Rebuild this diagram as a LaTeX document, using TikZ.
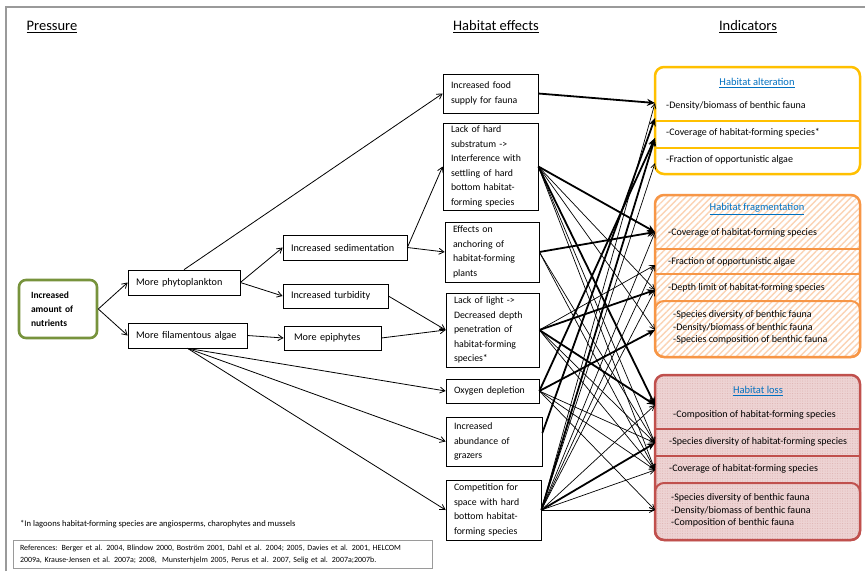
\documentclass[tikz,border=0pt]{standalone}
\usepackage{fontspec}
\setmainfont{Carlito}
\usetikzlibrary{arrows.meta,patterns,patterns.meta}
\definecolor{nutc}{HTML}{77933C}
\definecolor{altc}{HTML}{FFC000}
\definecolor{fragc}{HTML}{F79646}
\definecolor{fragp}{HTML}{FBD3B4}
\definecolor{lossc}{HTML}{C0504D}
\definecolor{lossf}{HTML}{EDD3D3}
\definecolor{lossp}{HTML}{DDB0B0}
\definecolor{ttlc}{HTML}{0070C0}
\definecolor{framec}{HTML}{9A9A9A}
\begin{document}
\begin{tikzpicture}[x=1pt,y=-1pt,
  bx/.style={draw, line width=0.7pt, inner xsep=8pt, inner ysep=1pt, align=left},
  lf/.style={bx, font=\fontsize{10.2}{12}\selectfont, minimum height=25pt},
  ef/.style={bx, font=\fontsize{9.8}{14.5}\selectfont},
  hd/.style={font=\fontsize{14.5}{16}\selectfont, inner sep=0pt},
  it/.style={font=\fontsize{10}{12.5}\selectfont, inner sep=0pt, align=left, anchor=west},
  ttl/.style={font=\fontsize{10.5}{12}\selectfont, text=ttlc, inner sep=0pt},
  la/.style={-{Straight Barb[length=5pt,width=6pt]}, line width=0.8pt},
  th/.style={-{Stealth[length=8pt,width=7pt]}, line width=1.8pt},
  tn/.style={-{Straight Barb[length=5pt,width=5pt]}, line width=0.7pt}]
\useasboundingbox (0,0) rectangle (865,571);
\fill[white] (0,0) rectangle (865,571);
% frame
\draw[framec, line width=1.3pt] (6,571) -- (6,7) -- (865,7);
% headings
\node[hd] (hp) at (52,27) {\underline{Pressure}};
\node[hd] (he) at (496,27) {\underline{Habitat effects}};
\node[hd] (hi) at (748,27) {\underline{Indicators}};
% pressure side
\node[draw=nutc, line width=2.6pt, rounded corners=7pt, minimum width=78pt, minimum height=58pt,
      text width=54pt, inner xsep=12pt, align=left, font=\fontsize{9.5}{14}\selectfont\bfseries] (nut) at (58,309) {Increased\\amount of\\nutrients};
\node[lf, text width=96pt] (phy) at (184,282.5) {More phytoplankton};
\node[lf, text width=103pt] (fil) at (187.5,335.5) {More filamentous algae};
\node[lf, text width=108pt, inner xsep=8pt] (sed) at (345,247.5) {Increased sedimentation};
\node[lf, text width=89pt, minimum height=24pt] (tur) at (335.5,296) {Increased turbidity};
\node[lf, text width=77pt, inner xsep=10pt, minimum height=24pt] (epi) at (332.5,338) {More epiphytes};
% habitat effects
\node[ef, text width=79pt, minimum height=39pt] (food) at (490.5,93.5) {Increased food\\supply for fauna};
\node[ef, text width=79pt, minimum height=87pt] (sub) at (490.5,166.5) {Lack of hard\\substratum ->\\Interference with\\settling of hard\\bottom habitat-\\forming species};
\node[ef, text width=78pt, minimum height=60pt] (anch) at (492,252) {Effects on\\anchoring of\\habitat-forming\\plants};
\node[ef, text width=77pt, minimum height=74pt] (light) at (492.5,330) {Lack of light ->\\Decreased depth\\penetration of\\habitat-forming\\species*};
\node[ef, text width=77pt, minimum height=24pt] (oxy) at (492.5,391) {Oxygen depletion};
\node[ef, text width=80pt, minimum height=49pt] (graz) at (494,441.5) {Increased\\abundance of\\grazers};
\node[ef, text width=79pt, minimum height=60pt] (comp) at (493.5,510) {Competition for\\space with hard\\bottom habitat-\\forming species};
% footnote and references
\node[font=\fontsize{8.6}{10}\selectfont, inner sep=0pt, anchor=west] (foot) at (20,524) {*In lagoons habitat-forming species are angiosperms, charophytes and mussels};
\node[draw=framec, line width=0.6pt, font=\fontsize{7.95}{12.5}\selectfont, text width=405pt, inner xsep=7pt, inner ysep=2pt, minimum height=28pt, align=left] (refs) at (222.5,554.5)
 {References: Berger et al. 2004, Blindow 2000, Bostr\"om 2001, Dahl et al. 2004; 2005, Davies et al. 2001, HELCOM\\2009a, Krause-Jensen et al. 2007a; 2008,\ \ Munsterhjelm 2005, Perus et al. 2007, Selig et al. 2007a;2007b.};
% indicator boxes
% alteration
\draw[altc, line width=2.5pt, rounded corners=9pt] (655,67) rectangle (860,174);
\draw[altc, line width=1.5pt] (655,121) -- (860,121) (655,148) -- (860,148);
% fragmentation
\path[pattern={Lines[angle=45,distance=4.5pt,line width=1.4pt]}, pattern color=fragp, rounded corners=9pt] (655,195) rectangle (860,357);
\draw[fragc, line width=2.5pt, rounded corners=9pt] (655,195) rectangle (860,357);
\draw[fragc, line width=1.5pt] (655,249) -- (860,249) (655,274) -- (860,274);
\draw[fragc, line width=2pt, rounded corners=9pt] (655,301) rectangle (860,357);
% loss
\fill[lossf, rounded corners=9pt] (655,375) rectangle (860,540);
\path[pattern={Dots[distance=2.5pt,radius=0.5pt]}, pattern color=lossp, rounded corners=9pt] (655,375) rectangle (860,540);
\draw[lossc, line width=2.5pt, rounded corners=9pt] (655,375) rectangle (860,540);
\draw[lossc, line width=1.5pt] (655,429) -- (860,429) (655,456) -- (860,456);
\draw[lossc, line width=2pt, rounded corners=9pt] (655,483) rectangle (860,540);
% indicator texts
\node[ttl] (ta) at (757,83) {\underline{Habitat alteration}};
\node[it] (a1) at (666,106) {-Density/biomass of benthic fauna};
\node[it] (a2) at (666,133) {-Coverage of habitat-forming species*};
\node[it] (a3) at (666,160) {-Fraction of opportunistic algae};
\node[ttl] (tf) at (757,209) {\underline{Habitat fragmentation}};
\node[it] (f1) at (668,233) {-Coverage of habitat-forming species};
\node[it] (f2) at (668,262) {-Fraction of opportunistic algae};
\node[it] (f3) at (668,288) {-Depth limit of habitat-forming species};
\node[it] (f4) at (673,327.5) {-Species diversity of benthic fauna\\-Density/biomass of benthic fauna\\-Species composition of benthic fauna};
\node[ttl] (tl) at (758,391) {\underline{Habitat loss}};
\node[it] (l1) at (673,415) {-Composition of habitat-forming species};
\node[it] (l2) at (669,442) {-Species diversity of habitat-forming species};
\node[it] (l3) at (669,469) {-Coverage of habitat-forming species};
\node[it] (l4) at (671,510.5) {-Species diversity of benthic fauna\\-Density/biomass of benthic fauna\\-Composition of benthic fauna};
% arrow targets on indicator boxes
\coordinate (A1a) at (655,103);
\coordinate (A1b) at (655,118);
\coordinate (A2) at (655,138);
\coordinate (A3) at (655,163);
\coordinate (F1) at (655,232);
\coordinate (F2) at (655,265);
\coordinate (F3) at (655,290);
\coordinate (F4) at (655,330);
\coordinate (L1) at (655,405);
\coordinate (L2) at (655,443);
\coordinate (L3) at (655,470);
\coordinate (L4) at (655,510);
% left connectors
\draw[la] (nut.east) -- (phy.west);
\draw[la] (nut.east) -- (fil.west);
\draw[la] (phy.north) -- (food.west);
\draw[la] (phy.east) -- (sed.west);
\draw[la] (phy.east) -- (tur.west);
\draw[la] (fil.east) -- (epi.west);
\draw[la] (sed.east) -- (sub.west);
\draw[la] (sed.east) -- (anch.west);
\draw[la] (tur.east) -- (light.west);
\draw[la] (epi.east) -- (light.west);
\draw[la] (fil.south) -- (oxy.west);
\draw[la] (fil.south) -- (graz.west);
\draw[la] (fil.south) -- (comp.west);
% right connectors, thin
\draw[tn] (sub.east) -- (F3);
\draw[tn] (sub.east) -- (F4);
\draw[tn] (sub.east) -- (L2);
\draw[tn] (sub.east) -- (L3);
\draw[tn] (anch.east) -- (L2);
\draw[tn] (anch.east) -- (L3);
\draw[tn] (light.east) -- (F2);
\draw[tn] (light.east) -- (L2);
\draw[tn] (light.east) -- (L3);
\draw[tn] (oxy.east) -- (L2);
\draw[tn] (oxy.east) -- (L3);
\draw[tn] (oxy.east) -- (L4);
\draw[tn] (comp.east) -- (A1a);
\draw[tn] (comp.east) -- (A3);
\draw[tn] (comp.east) -- (F1);
\draw[tn] (comp.east) -- (F2);
\draw[tn] (comp.east) -- (F3);
\draw[tn] (comp.east) -- (L1);
\draw[tn] (comp.east) -- (L3);
\draw[tn] (comp.east) -- (L4);
% right connectors, thick
\draw[th] (food.east) -- (A1a);
\draw[th] (sub.east) -- (F1);
\draw[th] (anch.east) -- (F1);
\draw[th] (sub.east) -- (L1);
\draw[th] (light.east) -- (F3);
\draw[th] (light.east) -- (L1);
\draw[th] (oxy.east) -- (F4);
\draw[th] (oxy.east) -- (A2);
\draw[th] ([yshift=8.5pt]graz.east) -- (A1b);
\draw[th] (comp.east) -- (A2);
\draw[th] (comp.east) -- (L2);
\end{tikzpicture}
\end{document}
